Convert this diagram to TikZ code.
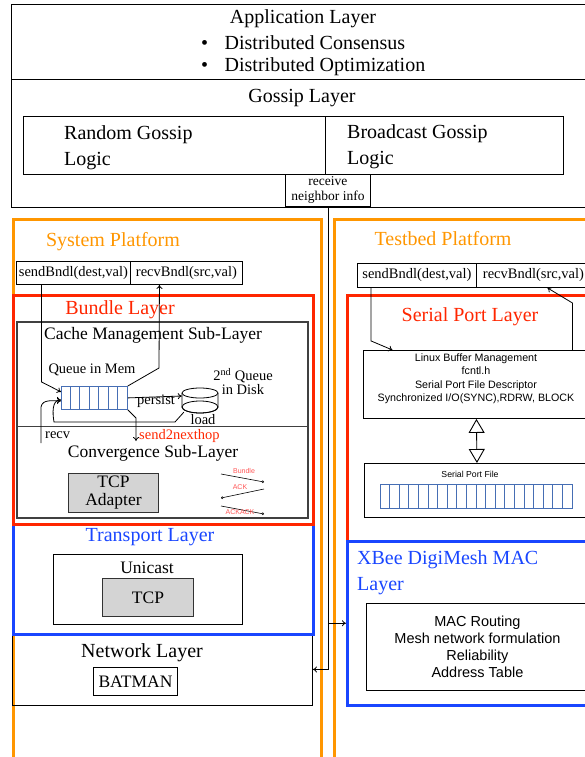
\documentclass[tikz,border=0pt]{standalone}
\usepackage{fontspec}
\setmainfont{Liberation Serif}
\newfontfamily\helv{Liberation Sans}
\usetikzlibrary{arrows.meta,positioning}

\definecolor{platorange}{RGB}{255,150,0}
\definecolor{layerred}{RGB}{255,38,0}
\definecolor{layerblue}{RGB}{25,70,255}
\definecolor{cellblue}{RGB}{70,110,180}
\definecolor{adaptergray}{RGB}{212,212,212}
\definecolor{acklabel}{RGB}{255,85,85}

\begin{document}
\begin{tikzpicture}[
    x=1pt, y=-1pt,
    every node/.append style={inner sep=0pt},
    box/.style={draw, anchor=north west, inner sep=0pt},
    sized/.style 2 args={minimum width=#1pt, minimum height=#2pt},
    platform/.style={box, draw=platorange, line width=3pt},
    redlayer/.style={box, draw=layerred, line width=2.5pt},
    bluelayer/.style={box, draw=layerblue, line width=2.5pt},
    plain/.style={box, draw=black, line width=0.9pt},
    grey/.style={box, draw=black!80, fill=adaptergray, line width=0.9pt},
    big/.style={font=\fontsize{20}{26}\selectfont},
    mid/.style={font=\fontsize{17.5}{18}\selectfont},
    small/.style={font=\fontsize{14.5}{14}\selectfont},
    tiny/.style={font=\fontsize{13.5}{15}\selectfont},
    sans/.style={font=\helv\fontsize{10.7}{13.3}\selectfont, align=center},
    acktext/.style={font=\helv\fontsize{7}{8}\selectfont, text=acklabel},
    arrow/.style={-{To[length=4pt,width=6pt]}, line width=0.8pt},
    thinarrow/.style={-{To[length=2pt,width=3pt]}, line width=0.6pt},
]

\clip (0,0) rectangle (585,757);

% Application and gossip layers
\node[plain, sized={584}{203}] (top) at (11,4) {};
\draw[line width=0.9pt] (11,79) -- (595,79);
\node[big] (app) at (303,19) {Application Layer};
\node[big, anchor=west] (cons) at (201,42.5) {\textbullet\hspace{16.5pt}Distributed Consensus};
\node[big, anchor=west] (opt) at (201,66.5) {\textbullet\hspace{16.5pt}Distributed Optimization};
\node[big] (gossip) at (302,98) {Gossip Layer};
\node[plain, sized={302}{58}] (random) at (23,116) {};
\node[plain, sized={238}{58}] (broadcast) at (325,116) {};
\node[big, align=left, anchor=west] at (64,147.5) {Random Gossip\\Logic};
\node[big, align=left, anchor=west] at (347,146.5) {Broadcast Gossip\\Logic};
\node[plain, fill=white, sized={85}{32}, tiny, align=center] (receive) at (285,174) {receive\\neighbor info};

% System platform
\node[platform, sized={308}{560}] (system) at (12,218) {};
\node[big, text=platorange] at (113,242) {System Platform};
\node[plain, sized={114}{23}, small] (sendA) at (16,261) {sendBndl(dest,val)};
\node[plain, sized={112}{23}, small] (recvA) at (130,261) {recvBndl(src,val)};

% Network layer
\node[plain, sized={300}{72}] (network) at (12,633) {};
\node[big] at (142,652.5) {Network Layer};
\node[plain, sized={84}{28}, mid] (batman) at (93,667) {BATMAN};

% Transport layer
\node[bluelayer, sized={300}{110}] (transport) at (12,523) {};
\node[big, text=layerblue] at (150,537.5) {Transport Layer};
\node[plain, sized={189}{70}] (unicast) at (53,554) {};
\node[mid] at (147,568) {Unicast};
\node[grey, sized={91}{38}, mid] (tcp) at (102,578) {TCP};

% Bundle layer
\node[redlayer, sized={300}{229}] (bundle) at (12,294) {};
\node[big, text=layerred] at (120,309.5) {Bundle Layer};
\node[box, draw=black!75, line width=1.5pt, sized={291}{196}] (cache) at (16,321) {};
\draw[black!75, line width=1pt] (16,426) -- (307,426);
\node[mid] at (153,335) {Cache Management Sub-Layer};
\node[small] (qlabel) at (92,369.5) {Queue in Mem};
\node[box, draw=cellblue, line width=0.8pt, sized={66}{23}] (queue) at (61,386) {};
\foreach \i in {1,...,6}
    \draw[cellblue, line width=1pt] (61+\i*9.43,386) -- (61+\i*9.43,409);

% disk
\node[sized={36}{26}] (disk) at (200,401) {};
\draw[line width=0.8pt, fill=white] (182,393) -- (182,407) arc[start angle=180, end angle=360, x radius=18, y radius=-6] -- (218,393);
\draw[line width=0.8pt] (200,407) ellipse [x radius=18, y radius=6];
\draw[line width=0.8pt, fill=white] (200,393) ellipse [x radius=18, y radius=5];
\node[small, align=center] at (243,381.5) {2\textsuperscript{nd} Queue\\in Disk};

\draw[arrow] (queue.east) -- ([yshift=5pt]disk.west);
\node[small] at (156,401) {persist};
\draw[arrow] ([shift={(2pt,2pt)}]disk.south west) -- (175,422) -- (54,422)
    to[out=100, in=180] ([yshift=-2pt]queue.west);
\node[small] at (203,419.5) {load};
\draw[arrow] ([xshift=-32pt]sendA.south) -- ++(0,97) -- ([yshift=6pt]queue.west);
\coordinate (recvin) at (41,443);
\draw[arrow] (recvin) -- (41,407) to[out=80, in=180] ([yshift=-3pt]queue.west);
\node[small, anchor=west] at (45,435.5) {recv};
\draw[arrow] (queue.north east) -- (159,368) -- ([xshift=-27pt]recvA.south);
\coordinate (nexthop) at (136,441);
\draw[arrow] (queue.south east) -- (136,418) -- (nexthop);
\node[small, text=layerred, anchor=west] at (139,436) {send2nexthop};

% convergence sub-layer
\node[mid] at (153,453.5) {Convergence Sub-Layer};
\node[grey, sized={90}{39}, mid, align=center] (tcpadapter) at (68,473) {TCP\\Adapter};
\coordinate (bundlefrom) at (221,474);
\coordinate (bundleto) at (264,482);
\coordinate (ackfrom) at (264,489);
\coordinate (ackto) at (221,498);
\coordinate (ackackfrom) at (221,506);
\coordinate (ackackto) at (264,514);
\draw[thinarrow] (bundlefrom) -- (bundleto);
\draw[thinarrow] (ackfrom) -- (ackto);
\draw[thinarrow] (ackackfrom) -- (ackackto);
\node[acktext] at (244,471) {Bundle};
\node[acktext] at (240,487) {ACK};
\node[acktext] at (240,512) {ACKACK};

% Testbed platform
\node[platform, sized={260}{560}] (testbed) at (333,218) {};
\node[big, text=platorange] at (443,238.5) {Testbed Platform};
\node[plain, sized={119}{24}, small] (sendB) at (357,263) {sendBndl(dest,val)};
\node[plain, sized={114}{24}, small] (recvB) at (476,263) {recvBndl(src,val)};

% Serial port layer
\node[redlayer, sized={260}{246}] (serial) at (346,294) {};
\node[big, text=layerred] at (470,316.5) {Serial Port Layer};
\node[plain, sized={226}{68}] (linux) at (363,350) {};
\node[sans, anchor=north] at (476,353.5) {Linux Buffer Management\\fcntl.h\\Serial Port File Descriptor\\Synchronized I/O(SYNC),RDRW, BLOCK};
\node[plain, sized={225}{54}] (serialfile) at (364,463) {};
\node[font=\helv\fontsize{8.7}{10}\selectfont] at (470,474.5) {Serial Port File};
\node[box, draw=cellblue, line width=0.8pt, sized={192}{24}] (fileq) at (380,484) {};
\foreach \i in {1,...,19}
    \draw[cellblue, line width=0.8pt] (380+\i*9.6,484) -- (380+\i*9.6,508);
\draw[{Triangle[open,length=14pt,width=16pt]}-{Triangle[open,length=14pt,width=16pt]}, line width=0.9pt]
    (linux.south) -- (serialfile.north);
\draw[arrow] ([xshift=-46pt]sendB.south) -- ++(0,53) -- ([xshift=-84pt]linux.north);
\draw[arrow] ([xshift=96pt]linux.north) -- ++(0,-47) -- ([xshift=14pt]recvB.south);

% XBee MAC layer
\node[bluelayer, sized={260}{164}] (xbee) at (346,540) {};
\node[big, text=layerblue, align=left, anchor=north west] at (357,550.5) {XBee DigiMesh MAC\\Layer};
\node[plain, sized={222}{87}, font=\helv\fontsize{14.5}{17}\selectfont, align=center] (mac) at (366,603)
    {MAC Routing\\Mesh network formulation\\Reliability\\Address Table};

% neighbor info wiring
\draw[arrow] (receive.south) |- (network.east);
\draw[arrow] (receive.south |- xbee.west) -- (xbee.west);

\end{tikzpicture}
\end{document}
